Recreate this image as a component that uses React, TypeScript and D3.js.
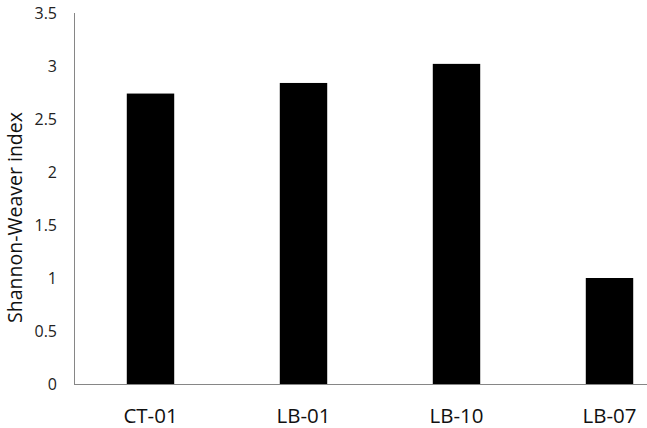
import React from "react";
import * as d3 from "d3";

const categories = ["CT-01", "LB-01", "LB-10", "LB-07"];
const values = [2.74, 2.84, 3.02, 1.0];
const yTicks = [0, 0.5, 1, 1.5, 2, 2.5, 3, 3.5];
const yTickLabels = ["0", "0.5", "1", "1.5", "2", "2.5", "3", "3.5"];
const yTitle = "Shannon-Weaver index";

export default function App() {
  const W = 647, H = 428;
  const x0 = 74, y0 = 384, yTop = 13;
  const x = d3.scaleBand<string>().domain(categories).range([x0, x0 + 612]).paddingInner(0.69).paddingOuter(0.345);
  const y = d3.scaleLinear().domain([0, 3.5]).range([y0, yTop]);
  const font = "'Open Sans', sans-serif";
  return (
    <svg width={W} height={H} style={{ position: "absolute", left: 0, top: 0, background: "#fff" }}>
      <rect width={W} height={H} fill="#fff" />
      {categories.map((c, i) => (
        <rect key={c} x={x(c)} y={y(values[i])} width={x.bandwidth()} height={y0 - y(values[i])} fill="#000" />
      ))}
      <line x1={x0} x2={W} y1={y0 + 0.5} y2={y0 + 0.5} stroke="#868686" strokeWidth={1} />
      <line x1={x0 + 0.5} x2={x0 + 0.5} y1={yTop} y2={y0} stroke="#868686" strokeWidth={1} />
      {yTicks.map((t, i) => (
        <text key={t} x={57} y={y(t)} dy="0.36em" textAnchor="end" fontFamily={font} fontSize={16} fill="#222">
          {yTickLabels[i]}
        </text>
      ))}
      {categories.map((c) => (
        <text key={c} x={(x(c) as number) + x.bandwidth() / 2} y={423} textAnchor="middle" fontFamily={font} fontSize={20.5} fill="#111">
          {c}
        </text>
      ))}
      <text transform={`translate(22,${(y0 + yTop) / 2 + 19}) rotate(-90)`} textAnchor="middle" fontFamily={font} fontSize={19.5} fill="#111">
        {yTitle}
      </text>
    </svg>
  );
}
